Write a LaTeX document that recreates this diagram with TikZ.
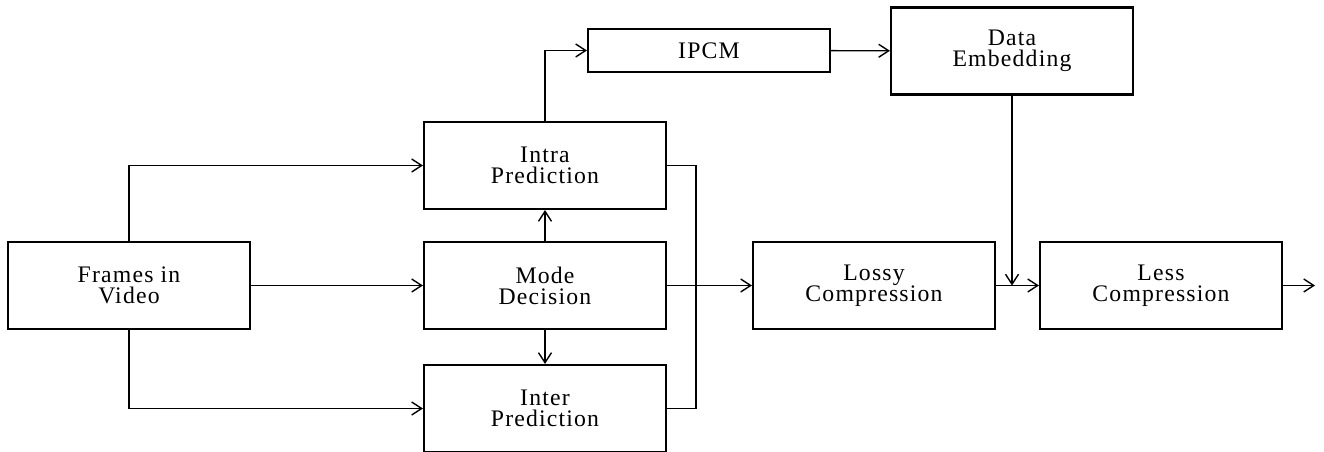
\documentclass[tikz,border=0pt]{standalone}
\usepackage{fontspec}
\setmainfont{Liberation Serif}[LetterSpace=5]
\usepackage{tikz}
\usetikzlibrary{arrows.meta,calc}
\tikzset{blk/.style={draw, line width=1.2pt, minimum width=4.84cm, minimum height=1.74cm,
  align=center, inner sep=0pt, font=\fontsize{13.5}{12}\selectfont},
  flow/.style={line width=0.8pt, -{Straight Barb[length=2mm,width=2.6mm,line width=0.8pt]}},
  wire/.style={line width=0.8pt}}

\begin{document}
\begin{tikzpicture}
        \useasboundingbox (0, 0) rectangle (26.48, 9.04);
        \node[blk] (frames) at (2.58, 3.33) {Frames in\\Video};
        \node[blk] (intra) at (10.9, 5.73) {Intra\\Prediction};
        \node[blk] (mode) at (10.9, 3.33) {Mode\\Decision};
        \node[blk] (inter) at (10.9, 0.87) {Inter\\Prediction};
        \node[blk, minimum height=0.86cm] (ipcm) at (14.18, 8.03) {IPCM};
        \node[blk] (embed) at (20.24, 8.02) {Data\\Embedding};
        \node[blk] (lossy) at (17.48, 3.33) {Lossy\\Compression};
        \node[blk] (less) at (23.22, 3.33) {Less\\Compression};

        \coordinate (bus) at (13.92, 3.33);
        \coordinate (join) at (embed.south |- lossy.east);
        \coordinate (out) at (26.3, 3.33);

        \draw (frames.north) edge[flow, to path={|- (\tikztotarget)}] (intra.west)
              (frames) edge[flow] (mode)
              (frames.south) edge[flow, to path={|- (\tikztotarget)}] (inter.west)

              (mode) edge[flow] (intra)
              (mode) edge[flow] (inter)

              (intra.north) edge[flow, to path={|- (\tikztotarget)}] (ipcm.west)
              (ipcm) edge[flow] (embed)
              (embed.south) edge[flow] (join)

              (mode) edge[flow] (lossy)
              (lossy) edge[flow] (less)
              (less) edge[flow] (out);

        \draw[wire] (intra.east) -| (bus) |- (inter.east);
    \end{tikzpicture}
\end{document}
